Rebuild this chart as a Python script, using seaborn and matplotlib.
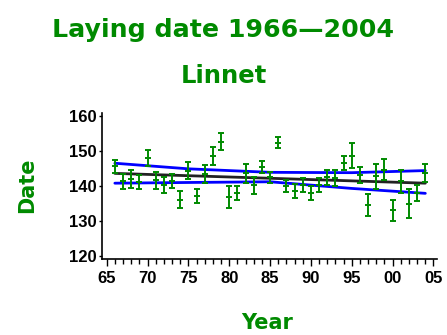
import numpy as np
import pandas as pd
import matplotlib
matplotlib.use('Agg')
import matplotlib.pyplot as plt
import seaborn as sns
from matplotlib.ticker import MultipleLocator, FixedLocator

# yearly mean laying date (day of year) with standard error
years = list(range(1966, 2005))
mean_date = [145.6, 141.3, 141.9, 141.1, 148.0, 141.6, 140.3, 141.5, 136.1, 144.4,
             137.2, 143.4, 148.6, 152.7, 136.8, 138.1, 143.6, 140.2, 145.4,
             142.5, 152.4, 140.0, 138.6, 140.3, 138.1, 140.3, 142.5, 142.3, 146.7,
             148.7, 143.2, 134.6, 142.8, 144.7, 133.0, 141.4, 134.9, 137.9, 143.8]
se_date = [1.8, 2.1, 2.6, 1.9, 2.2, 2.4, 2.3, 2.0, 2.4, 2.5,
           2.0, 2.5, 2.5, 2.3, 3.1, 2.0, 2.8, 2.4, 1.7,
           1.6, 1.6, 1.8, 2.0, 2.1, 2.0, 2.1, 2.1, 2.4, 2.0,
           3.6, 2.3, 3.1, 3.6, 2.9, 3.1, 3.3, 4.1, 2.3, 2.6]

# fitted trend and its confidence band
trend_years = [1966, 2004]
trend_vals = [143.6, 140.8]
band_years = [1966, 1975, 1985, 1995, 2004]
band_upper = [146.5, 144.9, 143.9, 143.8, 144.4]
band_lower = [140.8, 141.0, 141.2, 139.3, 137.9]

df = pd.DataFrame({'Year': years, 'Date': mean_date, 'SE': se_date})

sns.set_style('ticks')
plt.rcParams['font.family'] = ['Liberation Sans', 'DejaVu Sans']
plt.rcParams['font.weight'] = 'bold'

green = '#008a00'
fig = plt.figure(figsize=(4.47, 3.35), dpi=100)
ax = fig.add_axes([0.2277, 0.2275, 0.7494, 0.4357])

sns.lineplot(x=band_years, y=band_upper, color='#0000ff', lw=2, ax=ax)
sns.lineplot(x=band_years, y=band_lower, color='#0000ff', lw=2, ax=ax)
sns.lineplot(x=trend_years, y=trend_vals, color='#222222', lw=2, ax=ax)
ax.errorbar(df['Year'], df['Date'], yerr=df['SE'], fmt='_', color=green,
            ecolor=green, elinewidth=1.4, capsize=2.4, capthick=1.4,
            markersize=4, mew=1.4, zorder=5)

ax.set_xlim(1964.4, 2005.4)
ax.set_ylim(119.2, 160.9)
ax.xaxis.set_major_locator(FixedLocator(range(1965, 2006, 5)))
ax.xaxis.set_minor_locator(MultipleLocator(1))
ax.set_xticklabels(['65', '70', '75', '80', '85', '90', '95', '00', '05'])
ax.set_yticks([120, 130, 140, 150, 160])
ax.tick_params(axis='x', which='major', length=5, width=1, pad=4, labelsize=12, colors='black')
ax.tick_params(axis='x', which='minor', length=3.5, width=1, colors='black')
ax.tick_params(axis='y', length=2.5, width=1, pad=1, labelsize=12, colors='black')
for lab in ax.get_xticklabels() + ax.get_yticklabels():
    lab.set_fontweight('bold')
sns.despine(ax=ax)
for s in ['left', 'bottom']:
    ax.spines[s].set_color('black')
    ax.spines[s].set_linewidth(1.2)
ax.set_xlabel('')
ax.set_ylabel('')

tfont = dict(family='DejaVu Sans', weight='bold', color=green)
fig.text(0.5, 0.8896, 'Laying date 1966\u20142004', ha='center', va='baseline', fontsize=18.2, **tfont)
fig.text(0.5, 0.7522, 'Linnet', ha='center', va='baseline', fontsize=17.5, **tfont)
fig.text(266.7 / 447, 0.018, 'Year', ha='center', va='baseline', fontsize=15, **tfont)
fig.text(33.3 / 447, (335 - 185) / 335, 'Date', ha='center', va='baseline', rotation=90,
         rotation_mode='anchor', fontsize=15, **tfont)

fig.savefig('out.png', dpi=100)
